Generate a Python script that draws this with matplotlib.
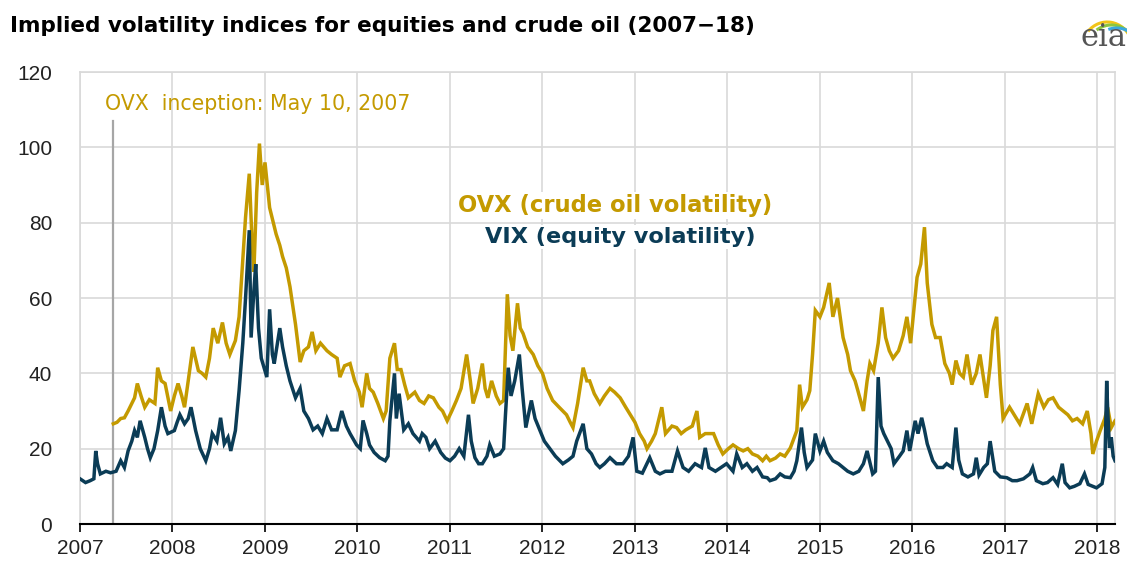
import matplotlib
matplotlib.use("Agg")
import matplotlib.pyplot as plt
from matplotlib.patches import Arc

# ---------------- data (decimal years, index values) ----------------
vix_dates = [
    2007.00, 2007.06, 2007.11, 2007.15, 2007.17, 2007.19, 2007.22, 2007.28, 2007.33, 2007.39,
    2007.44, 2007.48, 2007.52, 2007.56, 2007.59, 2007.62, 2007.65, 2007.70, 2007.73, 2007.76,
    2007.80, 2007.84, 2007.88, 2007.92, 2007.95, 2008.02, 2008.05, 2008.08, 2008.13, 2008.17,
    2008.20, 2008.25, 2008.30, 2008.36, 2008.40, 2008.43, 2008.48, 2008.52, 2008.56, 2008.60,
    2008.63, 2008.68, 2008.72, 2008.76, 2008.79, 2008.83, 2008.85, 2008.88, 2008.90, 2008.93,
    2008.96, 2009.02, 2009.05, 2009.08, 2009.10, 2009.16, 2009.19, 2009.23, 2009.27, 2009.33,
    2009.38, 2009.42, 2009.47, 2009.52, 2009.57, 2009.62, 2009.67, 2009.72, 2009.78, 2009.83,
    2009.88, 2009.92, 2009.99, 2010.03, 2010.06, 2010.10, 2010.13, 2010.18, 2010.24, 2010.30,
    2010.33, 2010.35, 2010.38, 2010.40, 2010.42, 2010.45, 2010.50, 2010.55, 2010.60, 2010.67,
    2010.70, 2010.74, 2010.78, 2010.84, 2010.90, 2010.95, 2011.00, 2011.05, 2011.10, 2011.15,
    2011.20, 2011.23, 2011.27, 2011.31, 2011.35, 2011.40, 2011.43, 2011.48, 2011.54, 2011.58,
    2011.60, 2011.63, 2011.66, 2011.70, 2011.75, 2011.78, 2011.82, 2011.88, 2011.92, 2011.97,
    2012.02, 2012.08, 2012.14, 2012.22, 2012.28, 2012.33, 2012.37, 2012.44, 2012.48, 2012.53,
    2012.58, 2012.62, 2012.67, 2012.73, 2012.80, 2012.87, 2012.93, 2012.98, 2013.02, 2013.08,
    2013.16, 2013.22, 2013.27, 2013.33, 2013.40, 2013.46, 2013.52, 2013.58, 2013.65, 2013.72,
    2013.76, 2013.80, 2013.87, 2013.93, 2013.99, 2014.06, 2014.10, 2014.16, 2014.21, 2014.27,
    2014.32, 2014.38, 2014.43, 2014.46, 2014.52, 2014.57, 2014.62, 2014.68, 2014.72, 2014.75,
    2014.80, 2014.83, 2014.86, 2014.92, 2014.95, 2015.00, 2015.04, 2015.08, 2015.14, 2015.20,
    2015.25, 2015.30, 2015.36, 2015.42, 2015.47, 2015.51, 2015.57, 2015.60, 2015.63, 2015.66,
    2015.69, 2015.73, 2015.77, 2015.80, 2015.86, 2015.90, 2015.94, 2015.97, 2016.03, 2016.06,
    2016.10, 2016.13, 2016.16, 2016.22, 2016.27, 2016.33, 2016.37, 2016.43, 2016.47, 2016.50,
    2016.54, 2016.60, 2016.66, 2016.69, 2016.72, 2016.77, 2016.81, 2016.84, 2016.89, 2016.95,
    2017.02, 2017.08, 2017.13, 2017.20, 2017.27, 2017.30, 2017.34, 2017.41, 2017.46, 2017.52,
    2017.57, 2017.62, 2017.65, 2017.70, 2017.75, 2017.81, 2017.86, 2017.90, 2017.95, 2017.99,
    2018.05, 2018.08, 2018.10, 2018.11, 2018.13, 2018.15, 2018.17, 2018.19,
]
vix_values = [
    12, 11, 11.5, 12, 19.4, 16, 13.3, 14, 13.6, 14,
    16.8, 15, 19.4, 22, 24.8, 23, 27.4, 23, 20, 17.6,
    20, 24.8, 31, 26, 24, 24.8, 27, 29, 26.6, 28,
    31, 24.8, 20, 16.8, 20, 24, 22, 28.2, 21.3, 23,
    19.4, 24.8, 35.4, 48, 60, 78, 49.5, 62, 69, 52,
    44, 39, 57, 45, 42.6, 52, 47, 42, 38, 33.5,
    36, 30, 28, 25, 26, 24, 28, 25, 25, 30,
    26, 24, 21, 20, 27.5, 24, 21, 19, 17.6, 16.8,
    18, 27.4, 35, 40, 28, 34.6, 25, 26.6, 24, 22,
    24, 23, 20, 22, 19, 17.5, 16.8, 18, 20, 18,
    29, 22, 17.6, 16, 16, 18, 21, 18, 18.6, 20,
    29, 41.5, 34, 38, 45, 36, 25.6, 32.8, 28, 25,
    22, 20, 18, 16, 17, 18, 22, 26.6, 20, 18.6,
    16, 15, 16, 17.6, 16, 16, 18, 23, 14, 13.5,
    17.6, 14, 13.3, 14, 14, 19.4, 15, 14, 16, 15,
    20.2, 15, 14, 15, 16, 14, 18.6, 15, 16, 14,
    15, 12.5, 12.3, 11.5, 12, 13.3, 12.5, 12.3, 14, 16.8,
    25.6, 19, 15, 17, 24, 19.4, 22, 19, 16.8, 16,
    15, 14, 13.3, 14, 16, 19.4, 13.3, 14, 39, 26,
    24, 22, 20, 16, 18, 19.4, 24.8, 19.4, 27.4, 24,
    28.2, 25, 21.3, 16.8, 15, 15, 16, 15, 25.6, 17,
    13.3, 12.5, 13.3, 17.6, 13, 15, 16, 22, 14, 12.5,
    12.3, 11.5, 11.5, 12, 13.3, 15, 11.5, 10.7, 11, 12.3,
    10.5, 16, 11, 9.6, 10, 10.7, 13.3, 10.5, 10, 9.6,
    10.7, 15, 38, 31, 20.2, 23, 18, 16.8,
]

ovx_dates = [
    2007.36, 2007.40, 2007.44, 2007.48, 2007.52, 2007.56, 2007.59, 2007.62, 2007.66, 2007.70,
    2007.75, 2007.81, 2007.84, 2007.88, 2007.92, 2007.98, 2008.02, 2008.06, 2008.10, 2008.13,
    2008.17, 2008.22, 2008.28, 2008.32, 2008.36, 2008.40, 2008.44, 2008.49, 2008.54, 2008.58,
    2008.62, 2008.68, 2008.72, 2008.76, 2008.79, 2008.83, 2008.86, 2008.88, 2008.91, 2008.94,
    2008.97, 2009.00, 2009.05, 2009.09, 2009.12, 2009.16, 2009.19, 2009.23, 2009.27, 2009.30,
    2009.33, 2009.38, 2009.42, 2009.47, 2009.51, 2009.55, 2009.60, 2009.67, 2009.72, 2009.78,
    2009.81, 2009.86, 2009.92, 2009.97, 2010.02, 2010.05, 2010.10, 2010.13, 2010.17, 2010.22,
    2010.28, 2010.31, 2010.35, 2010.40, 2010.43, 2010.47, 2010.51, 2010.55, 2010.62, 2010.67,
    2010.72, 2010.77, 2010.82, 2010.88, 2010.92, 2010.97, 2011.02, 2011.07, 2011.12, 2011.18,
    2011.22, 2011.25, 2011.30, 2011.35, 2011.38, 2011.41, 2011.45, 2011.50, 2011.54, 2011.58,
    2011.62, 2011.65, 2011.68, 2011.73, 2011.76, 2011.79, 2011.84, 2011.90, 2011.95, 2012.00,
    2012.05, 2012.11, 2012.18, 2012.26, 2012.30, 2012.33, 2012.38, 2012.44, 2012.48, 2012.51,
    2012.56, 2012.62, 2012.67, 2012.73, 2012.78, 2012.84, 2012.90, 2012.95, 2013.00, 2013.05,
    2013.10, 2013.13, 2013.18, 2013.22, 2013.29, 2013.33, 2013.40, 2013.45, 2013.50, 2013.55,
    2013.62, 2013.67, 2013.70, 2013.76, 2013.85, 2013.90, 2013.95, 2014.01, 2014.06, 2014.12,
    2014.17, 2014.22, 2014.27, 2014.33, 2014.38, 2014.42, 2014.46, 2014.52, 2014.57, 2014.62,
    2014.68, 2014.75, 2014.78, 2014.81, 2014.86, 2014.89, 2014.92, 2014.95, 2015.00, 2015.04,
    2015.10, 2015.14, 2015.19, 2015.25, 2015.30, 2015.33, 2015.38, 2015.41, 2015.47, 2015.51,
    2015.54, 2015.58, 2015.63, 2015.67, 2015.71, 2015.75, 2015.79, 2015.85, 2015.90, 2015.94,
    2015.98, 2016.05, 2016.09, 2016.13, 2016.16, 2016.21, 2016.25, 2016.30, 2016.35, 2016.40,
    2016.43, 2016.47, 2016.51, 2016.55, 2016.59, 2016.64, 2016.69, 2016.73, 2016.80, 2016.84,
    2016.87, 2016.91, 2016.95, 2016.98, 2017.05, 2017.10, 2017.16, 2017.24, 2017.29, 2017.36,
    2017.42, 2017.47, 2017.52, 2017.58, 2017.63, 2017.68, 2017.73, 2017.78, 2017.84, 2017.89,
    2017.93, 2017.95, 2017.99, 2018.03, 2018.08, 2018.11, 2018.15, 2018.19,
]
ovx_values = [
    26.6, 27, 28, 28.2, 30, 32, 33.5, 37.3, 34, 31,
    33, 32, 41.5, 38, 37.3, 30, 34, 37.3, 34, 31,
    38, 47, 40.7, 40, 39, 44, 52, 48, 53.5, 48,
    45, 48.7, 55, 70, 81.5, 93, 75, 67, 88, 101,
    90, 96, 84, 80, 77, 74, 71, 68, 63, 58,
    53, 43, 46, 47, 51, 46, 48, 46, 45, 44,
    39, 42, 42.6, 38, 35, 31, 40, 36, 35, 32,
    28, 30, 44, 48, 41, 41, 37, 33.5, 35, 32.8,
    32, 34, 33.5, 31, 30, 27.4, 30, 32.8, 36, 45,
    38, 32, 36, 42.6, 36, 33.5, 38, 34, 32, 32.8,
    61, 50, 46, 58.6, 52, 50.6, 47, 45, 42, 40,
    36, 32.8, 31, 29, 27, 25.6, 32, 41.5, 38, 38,
    34.6, 32, 34, 36, 35, 33.5, 31, 29, 27, 24,
    22, 20, 22, 24, 31, 24, 26, 25.6, 24, 25,
    26, 30, 23, 24, 24, 21, 18.6, 20, 21, 20,
    19.4, 20, 18.6, 18, 16.8, 18, 16.8, 17.5, 18.6, 18,
    20.2, 24.8, 37, 31, 33, 35.4, 45, 56.7, 55, 57.5,
    64, 55, 60, 49.5, 45, 40.7, 38, 35.4, 30, 38,
    42.6, 40.7, 48, 57.5, 49.5, 46, 44, 46, 50, 55,
    48, 65.5, 69, 78.8, 64, 53, 49.5, 49.5, 42.6, 40,
    37, 43.4, 40, 39, 45, 37, 40, 45, 33.5, 42,
    51.4, 55, 37, 28, 31, 29, 26.6, 32, 26.6, 34.6,
    31, 33, 33.5, 31, 30, 29, 27.4, 28, 26.6, 30,
    24, 18.6, 22, 24.8, 28, 31, 25.6, 27.4,
]

year_ticks = list(range(2007, 2019))
y_ticks = [0, 20, 40, 60, 80, 100, 120]
inception_year = 2007.356

title = "Implied volatility indices for equities and crude oil (2007\u221218)"
ovx_label = "OVX (crude oil volatility)"
vix_label = "VIX (equity volatility)"
inception_label = "OVX  inception: May 10, 2007"

OVX_COLOR = "#C49A00"
VIX_COLOR = "#0B3C56"
GRID = "#D9D9D9"

plt.rcParams['font.family'] = ['Liberation Sans', 'DejaVu Sans']

fig = plt.figure(figsize=(11.31, 5.65), dpi=100)
ax = fig.add_axes([80 / 1131, 1 - 524 / 565, (1115 - 80) / 1131, (524 - 72) / 565])

ax.set_xlim(2007, 2018.19)
ax.set_ylim(0, 120)
ax.set_xticks(year_ticks)
ax.set_xticklabels([str(y) for y in year_ticks], fontsize=15, color="#222222")
ax.set_yticks(y_ticks)
ax.set_yticklabels([str(v) for v in y_ticks], fontsize=15, color="#222222")
ax.tick_params(axis='y', length=0, pad=20)
ax.tick_params(axis='x', length=6, width=1.2, direction='out', color='black', pad=5)
ax.grid(True, color=GRID, linewidth=1.2)
ax.set_axisbelow(True)
for s in ['top', 'right', 'left']:
    ax.spines[s].set_color(GRID)
    ax.spines[s].set_linewidth(1.2)
ax.spines['bottom'].set_color('black')
ax.spines['bottom'].set_linewidth(1.5)

ax.plot([inception_year, inception_year], [0, 107], color="#A6A6A6", lw=1.6, zorder=2)
ax.text(2007.27, 111.5, inception_label, color=OVX_COLOR, fontsize=14.8, family='DejaVu Sans',
        ha='left', va='center')

ax.plot(ovx_dates, ovx_values, color=OVX_COLOR, lw=2.5, zorder=3, solid_joinstyle='miter')
ax.plot(vix_dates, vix_values, color=VIX_COLOR, lw=2.5, zorder=4, solid_joinstyle='miter')

ax.text(2012.79, 84.5, ovx_label, color=OVX_COLOR, fontsize=16.3, fontweight='bold',
        family='DejaVu Sans', ha='center', va='center', zorder=5,
        bbox=dict(facecolor='white', edgecolor='none', pad=1.5))
ax.text(2012.84, 76.3, vix_label, color=VIX_COLOR, fontsize=16.1, fontweight='bold',
        family='DejaVu Sans', ha='center', va='center', zorder=5,
        bbox=dict(facecolor='white', edgecolor='none', pad=1.5))

fig.text(10 / 1131, 1 - 26 / 565, title, fontsize=15.5, fontweight='bold',
         family='DejaVu Sans', ha='left', va='center', color='black')

# EIA logo (approximation)
fig.text(1103 / 1131, 1 - 38 / 565, "eia", fontsize=22, family='DejaVu Serif',
         color='#555555', ha='center', va='center')
lax = fig.add_axes([1075 / 1131, 1 - 40 / 565, 52 / 1131, 30 / 565])
lax.set_xlim(0, 1)
lax.set_ylim(0, 1)
lax.axis('off')
lax.add_patch(Arc((0.62, -0.35), 1.0, 1.9, theta1=40, theta2=120, color='#F2C418', lw=2.2))
lax.add_patch(Arc((0.70, -0.45), 1.0, 1.9, theta1=30, theta2=110, color='#8DC63F', lw=2.2))
lax.add_patch(Arc((0.80, -0.55), 1.0, 1.9, theta1=0, theta2=100, color='#3AA8DF', lw=2.2))

fig.savefig("out.png", dpi=100)
